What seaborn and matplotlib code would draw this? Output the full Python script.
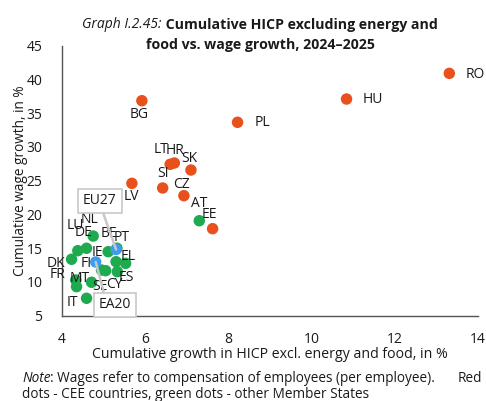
import matplotlib
matplotlib.use("Agg")
import matplotlib.pyplot as plt
import seaborn as sns
import pandas as pd

# Cumulative growth 2024-2025, in %
countries = ["RO", "HU", "PL", "BG", "LT", "HR", "SK", "LV", "SI", "CZ", "EE",
             "AT", "NL", "LU", "DE", "DK", "FR", "MT", "IT", "SE", "BE", "PT",
             "IE", "EL", "FI", "CY", "ES",
             "EU27", "EA20"]
hicp_core = [13.31, 10.84, 8.22, 5.92, 6.60, 6.70, 7.10, 5.68, 6.42, 6.93, 7.62,
             7.30, 4.75, 4.38, 4.59, 4.23, 4.33, 4.35, 4.59, 4.71, 5.11, 5.32,
             5.30, 5.53, 4.95, 5.05, 5.33,
             5.30, 4.81]
wage_growth = [40.9, 37.1, 33.65, 36.85, 27.43, 27.62, 26.58, 24.61, 23.92, 22.78, 17.89,
               19.07, 16.8, 14.63, 14.99, 13.36, 10.29, 9.30, 7.58, 9.95, 14.48, 15.0,
               13.0, 12.76, 11.77, 11.67, 11.52,
               14.81, 12.96]
groups = ["CEE"] * 11 + ["Other"] * 16 + ["Aggregate"] * 2

# label placement relative to each dot, in pixels (x right, y up)
label_offsets = {
    "RO": (26, -1), "HU": (26, 0), "PL": (25, 0), "BG": (-3, -14),
    "LT": (-9, 15), "HR": (1, 13), "SK": (-2, 12), "LV": (-1, -13),
    "SI": (0, 14), "CZ": (-2, 11), "EE": (-3, 14), "AT": (0, 17),
    "NL": (-4, 17), "LU": (-2, 25), "DE": (-3, 16), "DK": (-16, -4),
    "FR": (-18, 5), "MT": (3, 8), "IT": (-14, -4), "SE": (8, -4),
    "BE": (1, 18), "PT": (5, 11), "IE": (-19, 9), "EL": (2, 7),
    "FI": (-15, 7), "CY": (9, -14), "ES": (9, -6),
}

df = pd.DataFrame({"country": countries, "hicp": hicp_core,
                   "wages": wage_growth, "group": groups})

sns.set_theme(style="white")
plt.rcParams["font.family"] = ["Open Sans", "DejaVu Sans"]
text_col = "#1a1a1a"
axis_col = "#555555"

fig = plt.figure(figsize=(4.86, 4.01), dpi=100)
ax = fig.add_axes([62 / 486, 1 - 315.7 / 401, 416 / 486, 270 / 401])

palette = {"CEE": "#e8501c", "Other": "#1faa4f", "Aggregate": "#3d9cf0"}
sns.scatterplot(data=df, x="hicp", y="wages", hue="group", palette=palette,
                s=68, edgecolor="none", linewidth=0, legend=False, ax=ax, zorder=3)

for _, row in df.iterrows():
    if row["country"] in label_offsets:
        dx, dy = label_offsets[row["country"]]
        ax.annotate(row["country"], (row["hicp"], row["wages"]),
                    xytext=(dx, dy), textcoords="offset pixels",
                    ha="center", va="center", fontsize=10, color=text_col,
                    zorder=4)

# boxed call-outs for the aggregates
box_kw = dict(boxstyle="square,pad=0.35", fc="white", ec="#c8c8c8", lw=1.2)
eu = df[df["country"] == "EU27"].iloc[0]
ea = df[df["country"] == "EA20"].iloc[0]
ax.annotate("EU27", (eu["hicp"], eu["wages"]), xytext=(4.91, 22.0),
            textcoords="data", ha="center", va="center", fontsize=10,
            color=text_col, bbox=box_kw, zorder=5, annotation_clip=False,
            arrowprops=dict(arrowstyle="-", color="#c8c8c8", lw=1.8,
                            relpos=(0.55, 0.0), shrinkA=0, shrinkB=0))
ax.annotate("EA20", (ea["hicp"], ea["wages"]), xytext=(5.27, 6.6),
            textcoords="data", ha="center", va="center", fontsize=10,
            color=text_col, bbox=box_kw, zorder=5, annotation_clip=False,
            arrowprops=dict(arrowstyle="-", color="#c8c8c8", lw=1.8,
                            relpos=(0.2, 1.0), shrinkA=0, shrinkB=0))

ax.set_xlim(4, 14)
ax.set_ylim(5, 45)
ax.set_xticks([4, 6, 8, 10, 12, 14])
ax.set_yticks(range(5, 50, 5))
sns.despine(ax=ax)
for side in ("left", "bottom"):
    ax.spines[side].set_color(axis_col)
    ax.spines[side].set_linewidth(1.0)
ax.tick_params(axis="both", direction="in", length=4, width=1.0,
               color=axis_col, labelsize=10, labelcolor=text_col)
ax.tick_params(axis="y", pad=14)
ax.tick_params(axis="x", pad=12)

ax.set_xlabel("Cumulative growth in HICP excl. energy and food, in %",
              fontsize=10.2, color=text_col, labelpad=0)
ax.set_ylabel("Cumulative wage growth, in %", fontsize=9.8, color=text_col,
              labelpad=-1)

# title: italic prefix followed by bold text
t1 = fig.text(82 / 486, 1 - 25 / 401, "Graph I.2.45:", fontsize=10,
              style="italic", color=text_col, ha="left", va="center")
ax.annotate(" Cumulative HICP excluding energy and", xy=(1, 0.5),
            xycoords=t1, ha="left", va="center", fontsize=10.2,
            fontweight="bold", color=text_col)
fig.text(260 / 486, 1 - 45 / 401, "food vs. wage growth, 2024\u20132025",
         fontsize=10.2, fontweight="bold", color=text_col, ha="center",
         va="center")

# note below the chart
n1 = fig.text(22 / 486, 1 - 378 / 401, "Note", fontsize=9.8, style="italic",
              color=text_col, ha="left", va="center")
ax.annotate(": Wages refer to compensation of employees (per employee).",
            xy=(1, 0.5), xycoords=n1, ha="left", va="center", fontsize=9.8,
            color=text_col)
fig.text(482 / 486, 1 - 378 / 401, "Red", fontsize=9.8, color=text_col,
         ha="right", va="center")
fig.text(22 / 486, 1 - 395 / 401,
         "dots - CEE countries, green dots - other Member States",
         fontsize=9.8, color=text_col, ha="left", va="center")

fig.savefig("out.png", dpi=100)
